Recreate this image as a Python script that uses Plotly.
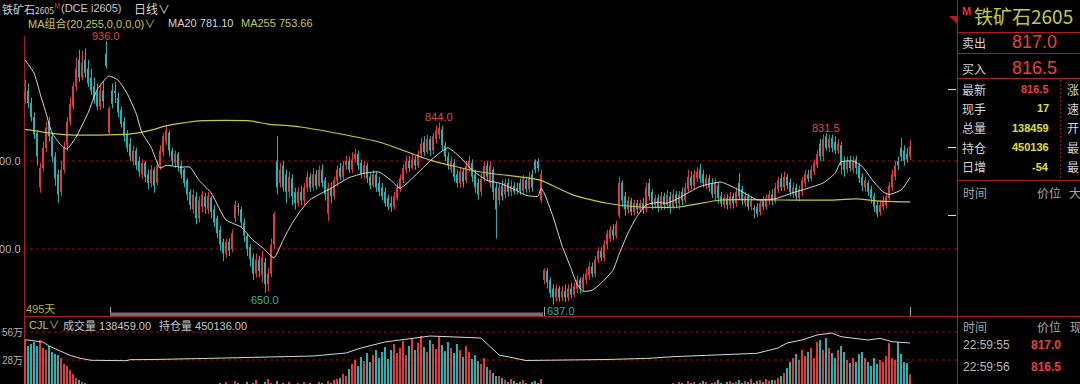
import plotly.graph_objects as go

W, H = 1080, 384

opens = [
    870,880,866,850,832,770,792,815,845,828,
    805,785,765,790,818,845,862,885,915,895,
    915,905,895,885,878,862,880,922,832,880,
    878,872,858,845,830,820,800,812,800,785,
    798,785,775,790,775,795,810,822,832,812,
    798,808,795,790,778,765,745,760,735,748,
    760,745,758,745,735,722,708,695,708,700,
    735,748,745,730,715,702,690,672,688,670,
    685,660,672,705,800,775,795,785,765,780,
    765,752,765,755,770,782,770,785,772,790,
    778,740,770,760,778,792,782,795,800,790,
    802,808,798,785,795,782,772,785,775,770,
    765,758,752,748,758,768,778,790,800,792,
    802,795,808,822,810,825,812,825,830,836,
    818,805,790,798,785,775,788,778,792,798,
    785,775,765,780,795,775,790,770,755,772,
    762,775,765,772,768,775,766,778,768,785,
    800,800,755,665,675,665,655,645,655,645,
    652,645,655,648,655,665,655,665,670,680,
    672,688,698,690,705,712,722,715,738,775,
    760,745,755,742,752,745,752,745,775,765,
    750,758,748,760,750,760,748,762,752,765,
    755,768,782,772,780,790,785,772,780,775,
    762,772,760,750,758,750,760,752,775,768,
    752,760,748,745,748,742,755,748,755,762,
    755,768,780,770,782,776,762,770,758,765,
    775,785,780,788,795,820,805,828,815,826,
    822,812,818,800,790,800,790,802,795,782,
    770,775,768,760,750,742,748,750,758,770,
    782,800,815,812,808,805,
]
highs = [
    892,888,872,855,835,798,822,845,850,832,
    810,790,800,822,850,872,890,918,926,925,
    928,915,905,895,888,888,890,936,862,888,
    890,878,862,850,835,826,818,815,805,802,
    800,790,795,793,800,818,832,840,835,815,
    812,810,800,792,780,768,768,765,760,766,
    764,765,760,750,738,726,712,712,712,722,
    755,752,748,735,718,705,695,695,692,698,
    690,678,712,742,828,798,800,790,788,785,
    770,770,772,775,788,786,792,790,795,796,
    782,775,776,782,795,798,800,806,805,810,
    814,812,802,800,798,786,790,788,782,775,
    770,762,760,765,775,785,796,806,805,808,
    806,812,826,828,830,828,832,840,844,840,
    822,810,805,802,790,792,792,800,806,802,
    790,780,786,800,800,800,793,775,775,778,
    780,780,778,776,775,780,784,782,788,790,
    802,803,790,678,678,668,660,660,658,658,
    660,660,662,662,670,668,672,678,685,685,
    692,702,702,710,722,726,728,732,782,778,
    765,760,758,756,756,756,758,775,780,768,
    762,762,765,764,767,765,768,766,766,770,
    775,790,788,790,793,797,790,785,784,780,
    780,776,765,762,762,765,764,770,786,772,
    765,763,760,750,752,756,760,762,766,768,
    775,782,786,788,785,780,775,774,772,782,
    790,790,795,802,812,825,830,831.5,830,830,
    828,825,822,805,805,806,805,806,798,786,
    782,778,772,764,754,755,760,764,776,790,
    800,805,826,818,815,824,
]
lows = [
    865,860,845,825,795,764,788,810,822,798,
    772,752,760,786,812,840,858,880,890,892,
    895,884,875,865,858,858,860,905,830,860,
    866,850,838,822,810,800,795,790,782,780,
    776,768,770,764,772,790,805,818,805,795,
    792,788,780,770,755,745,740,728,730,742,
    740,740,735,725,712,698,686,690,692,696,
    730,738,725,708,692,680,665,668,668,662,
    650,652,668,700,762,770,765,752,758,750,
    745,748,750,750,765,765,766,768,770,770,
    755,732,752,756,772,778,778,790,786,786,
    798,790,780,780,775,768,770,765,760,755,
    748,744,742,745,755,765,775,786,788,790,
    790,792,805,806,808,806,808,820,825,812,
    800,790,786,776,770,770,770,775,788,776,
    764,756,760,776,778,770,756,712,750,755,
    758,760,760,762,762,762,762,764,764,765,
    786,788,752,660,655,645,637,640,640,641,
    640,641,644,645,650,650,652,660,665,668,
    668,684,686,686,700,708,710,712,735,748,
    738,740,738,738,740,742,740,742,755,745,
    746,742,744,745,746,740,745,746,745,750,
    752,765,768,768,776,775,770,768,765,758,
    755,752,748,746,745,746,746,748,756,750,
    748,744,744,735,736,738,744,745,750,750,
    752,764,766,766,768,760,758,755,754,760,
    770,776,777,784,792,800,800,812,810,810,
    808,808,785,782,786,788,786,785,775,766,
    765,760,752,742,736,738,744,746,755,766,
    778,790,800,795,798,801,
]
closes = [
    878,866,850,830,805,792,815,838,828,805,
    780,762,790,815,845,865,885,905,895,912,
    900,888,880,870,862,880,868,908,860,865,
    878,855,842,828,815,805,812,795,788,798,
    782,775,790,772,795,812,828,835,812,800,
    808,795,785,775,762,750,762,735,755,762,
    748,760,742,730,718,705,695,708,698,718,
    750,748,730,715,700,688,672,688,675,690,
    660,672,705,740,770,790,770,765,782,760,
    752,765,755,770,782,770,785,772,790,775,
    762,770,760,778,790,782,795,800,790,802,
    808,795,785,795,780,772,785,770,765,760,
    752,748,748,760,770,780,792,800,792,802,
    795,808,820,810,825,812,828,835,838,818,
    805,795,800,782,775,788,776,795,800,782,
    770,762,780,795,782,795,765,745,770,760,
    775,765,772,765,768,766,780,768,782,770,
    790,792,785,676,662,650,645,655,645,652,
    645,655,648,658,665,655,668,672,680,672,
    688,698,690,705,718,722,715,728,775,755,
    745,755,742,752,745,752,745,770,760,750,
    758,748,760,750,762,748,762,752,762,755,
    770,782,772,785,788,780,775,780,770,762,
    775,758,752,758,750,760,752,765,760,755,
    760,748,755,745,740,752,748,758,762,755,
    770,778,770,782,772,765,770,760,768,778,
    785,780,790,798,808,805,825,815,825,815,
    812,820,795,790,800,792,800,792,780,772,
    778,765,758,748,740,750,755,760,772,785,
    795,795,805,800,802,816.5,
]
# volume in units of 10k (万)
volumes = [
    48,42,44,46,42,48,40,38,42,36,
    34,33,30,24,22,18,14,10,8,6,
    5,4,3,3,2,2,3,4,3,2,
    2,2,3,2,2,3,2,2,2,3,
    2,2,3,2,2,2,3,2,2,2,
    3,2,2,2,3,2,2,3,2,2,
    2,3,2,2,3,5,3,6,4,3,
    7,5,3,4,6,3,5,8,4,3,
    6,9,5,4,7,3,5,4,6,3,
    4,5,3,6,4,5,3,4,6,5,
    4,7,5,8,9,10,14,12,19,24,
    28,22,31,27,35,26,33,38,30,36,
    41,29,38,44,35,40,47,33,42,50,
    38,45,52,41,36,48,44,39,51,43,
    37,46,40,35,44,38,31,42,36,29,
    33,27,24,30,21,18,15,12,12,10,
    8,6,9,7,5,6,8,5,4,6,
    7,5,9,3,2,2,3,2,2,3,
    2,2,2,3,2,2,3,2,2,3,
    2,2,3,2,3,4,3,2,3,2,
    3,3,2,3,2,3,3,2,3,3,
    2,3,4,3,2,3,5,4,6,5,
    4,7,5,6,4,5,7,6,4,5,
    6,8,5,4,6,7,5,6,8,5,
    7,6,9,5,7,8,6,9,7,8,
    8,10,12,15,20,26,30,34,28,38,
    32,36,40,30,46,48,38,50,40,35,
    30,38,42,36,28,25,30,26,34,36,
    30,26,22,30,24,28,26,32,45,30,
    28,46,34,26,25,13.8,
]
# open interest (万), read at selected bars
oi_idx = [0, 6, 8, 12, 15, 18, 22, 34, 35, 43, 58, 62, 96, 107, 112, 120, 135, 145, 152,
          158, 167, 194, 208, 216, 225, 244, 251, 254, 259, 264, 269, 272, 281, 285, 289, 295]
oi_val = [48.3, 46, 42, 36.7, 32.7, 30, 27.7, 27.3, 28.3, 28.5, 29, 29.7, 32, 35, 40, 46, 52, 51, 50,
          33, 27.5, 28.5, 29.7, 31.3, 32.3, 34.7, 40, 45, 48, 53, 55, 51.3, 48, 49.7, 46.3, 45.0]

ma20_idx = [0,3,5,7,9,12,14,17,21,24,27,28,31,34,37,39,42,45,47,52,55,58,62,67,72,76,79,83,86,89,
            92,95,102,108,113,118,122,125,132,136,141,146,149,154,158,163,167,171,172,173,176,179,
            182,184,186,189,192,196,198,201,204,207,211,214,218,225,232,238,244,250,256,259,266,
            270,272,276,279,283,286,288,292,295]
ma20_val = [915,900,877,854.5,832,818,813.6,827,854.5,880.7,894,896.6,892,877,854.5,832,816,792,795,793,
            793,778,764,733,725,710,702,690,710,729,744,756,769,781,786,787.5,778,769,790,803,
            815,801,790,778,775,768,761,760,769,764,737,704,678,660,652,653,661,676,694,718,
            737,750,753,752,758,771,776,767,756,757,764,767,775,786,799,800,794,776,765,762,
            767,781.1]

ma255_idx = [0, 13, 28, 36, 42, 47, 58, 75, 81, 92, 118, 135, 152, 168, 172, 183, 194, 205, 218,
             232, 252, 268, 277, 285, 295]
ma255_val = [836, 830, 829.6, 831, 835, 840, 845.5, 845.5, 842, 838.6, 821.6, 801, 787.5, 780.7, 778,
             761, 752, 747.7, 747.7, 755.7, 755.7, 755.5, 757, 754.5, 753.66]

# extreme labels: (bar index, price, text, colour, side)
peak_labels = [
    (27, 936.0, "936.0", "#e04848", "top"),
    (80, 650.0, "650.0", "#2cb4b4", "bottom"),
    (138, 844.0, "844.0", "#e04848", "top"),
    (267, 831.5, "831.5", "#e04848", "top"),
]
low_label = (173.5, 637.0, "637.0", "#2cb4b4")

RED = "#e23a3a"
TEAL = "#1fb5b5"
GREY = "#8c8c8c"
BORDER = "#b01c1c"
DASH = "#8e1a1a"
OLIVE = "#c8c850"
LIGHT = "#d4d4d4"
FONT = "Liberation Sans, Noto Sans CJK SC, sans-serif"
CJK = "Noto Sans CJK SC, Liberation Sans, sans-serif"

n = len(closes)
idx = list(range(n))


def ccol(o, c):
    if c > o:
        return RED
    if c < o:
        return TEAL
    return GREY


colors = [ccol(o, c) for o, c in zip(opens, closes)]
body_base = [min(o, c) for o, c in zip(opens, closes)]
body_h = [max(abs(c - o), 0.8) for o, c in zip(opens, closes)]
wick_h = [h - l for h, l in zip(highs, lows)]

fig = go.Figure()
fig.add_trace(go.Bar(x=idx, y=wick_h, base=lows, width=0.28, offset=0.02,
                     marker=dict(color=colors, line=dict(width=0)), hoverinfo="skip"))
fig.add_trace(go.Bar(x=idx, y=body_h, base=body_base, width=0.65, offset=-0.32,
                     marker=dict(color=colors, line=dict(width=0)), hoverinfo="skip"))
fig.add_trace(go.Scatter(x=ma255_idx, y=ma255_val, mode="lines",
                         line=dict(color="#c8c83a", width=1.2, shape="spline", smoothing=0.6)))
fig.add_trace(go.Scatter(x=ma20_idx, y=ma20_val, mode="lines",
                         line=dict(color="#d8d8d8", width=1, shape="spline", smoothing=0.5)))
fig.add_trace(go.Bar(x=idx, y=volumes, width=0.65, offset=-0.32, xaxis="x2", yaxis="y2",
                     marker=dict(color=colors, line=dict(width=0)), hoverinfo="skip"))
fig.add_trace(go.Scatter(x=oi_idx, y=oi_val, mode="lines", xaxis="x2", yaxis="y2",
                         line=dict(color="#d8d8d8", width=1)))

# layout geometry (pixels)
PX_L, PX_R = 24, 957
MAIN_TOP, MAIN_BOT = 20, 316
xr = [-1 / 3, -1 / 3 + (PX_R - PX_L) / 3]
ppu = 0.88
p_top = 800 + (161 - MAIN_TOP) / ppu
p_bot = 800 - (MAIN_BOT - 161) / ppu

fig.update_layout(
    width=W, height=H, margin=dict(l=0, r=0, t=0, b=0),
    paper_bgcolor="black", plot_bgcolor="black", barmode="overlay", showlegend=False,
    xaxis=dict(domain=[PX_L / W, PX_R / W], range=xr, visible=False, fixedrange=True),
    yaxis=dict(domain=[(H - MAIN_BOT) / H, (H - MAIN_TOP) / H], range=[p_bot, p_top], visible=False),
    xaxis2=dict(domain=[PX_L / W, PX_R / W], range=xr, visible=False, anchor="y2"),
    yaxis2=dict(domain=[0, (H - MAIN_BOT) / H], range=[4, 72], visible=False, anchor="x2"),
)


def px(x):
    return x / W


def py(y):
    return 1 - y / H


def hline(y, x0, x1, color, dash=None, width=1):
    fig.add_shape(type="line", xref="paper", yref="paper", x0=px(x0), x1=px(x1), y0=py(y), y1=py(y),
                  line=dict(color=color, width=width, dash=dash), layer="below")


def vline(x, y0, y1, color, dash=None, width=1):
    fig.add_shape(type="line", xref="paper", yref="paper", x0=px(x), x1=px(x), y0=py(y0), y1=py(y1),
                  line=dict(color=color, width=width, dash=dash), layer="below")


def text(t, x, y, size=11, color=LIGHT, xa="left", ya="middle", family=FONT):
    fig.add_annotation(text=t, x=px(x), y=py(y), xref="paper", yref="paper", xanchor=xa, yanchor=ya,
                       showarrow=False, font=dict(size=size, color=color, family=family), borderpad=0)


# grid / borders
for gy in (161, 249, 332, 360):
    hline(gy, PX_L, PX_R, DASH, dash="3px,3px")
vline(24.5, 36, 384, BORDER)
vline(957.5, 0, 384, BORDER)
hline(316.5, 24, 1080, BORDER)
for ry in (32.5, 53.5, 78.5, 180.5):
    hline(ry, 957, 1080, BORDER)
vline(1060.5, 80, 178, DASH, dash="2px,2px")
for ty in (89.5, 147.5, 215.5):
    hline(ty, 948, 956, "#e0e0e0")
# scroll bar
fig.add_shape(type="rect", xref="paper", yref="paper", x0=px(110), x1=px(543), y0=py(316), y1=py(312.5),
              fillcolor="#707070", line=dict(width=0))
for tx in (110.5, 544.5, 910.5):
    vline(tx, 307, 316, "#a0a0a0")
fig.add_shape(type="path", xref="paper", yref="paper",
              path=f"M {px(949)},{py(16)} L {px(957)},{py(16)} L {px(957)},{py(24)} Z",
              fillcolor=BORDER, line=dict(width=0))

# header
text("铁矿石<span style='font-size:8.5px'>2605</span><sup><span style='color:#e03030'>M</span></sup>",
     1, 8, 11, LIGHT, family=CJK)
text("(DCE i2605)", 60, 8, 11, "#c8c8c8")
text("日线∨", 133, 8, 12, LIGHT, family=CJK)
text("MA组合(20,255,0,0,0,0)∨", 27, 23, 11, OLIVE)
text("MA20 781.10", 167, 23, 11, LIGHT)
text("MA255 753.66", 240, 23, 11, OLIVE)

# axis labels
text("800.0", 22, 161, 11, "#b4b4b4", xa="right")
text("700.0", 22, 249, 11, "#b4b4b4", xa="right")
text("56万", 1, 332, 10, "#b4b4b4")
text("28万", 1, 360, 10, "#b4b4b4")
text("495天", 25, 309, 11, "#b8b040")

# volume header
text("CJL∨", 28, 325, 11, OLIVE)
text("成交量 138459.00", 62, 325, 11, "#c8c8c8")
text("持仓量 450136.00", 158, 325, 11, "#c8c8c8")

# extreme labels
for i, p, t, c, side in peak_labels:
    fig.add_annotation(text=t, x=i, y=p, xref="x", yref="y", showarrow=False,
                       yanchor="bottom" if side == "top" else "top", xanchor="center",
                       yshift=-2 if side == "top" else 0, borderpad=0,
                       font=dict(size=11, color=c, family=FONT))
fig.add_annotation(text=low_label[2], x=low_label[0], y=low_label[1], xref="x", yref="y", showarrow=False,
                   xanchor="left", yanchor="top", borderpad=0, font=dict(size=11, color=low_label[3], family=FONT))

# right panel
text("<b>M</b>", 961, 11, 11, "#e03030")
text("铁矿石2605", 973, 15, 19, "#c4cc3c", family=CJK)
text("卖出", 961, 42, 12, LIGHT, family=CJK)
text("817.0", 1058, 42, 18, "#e84040", xa="right")
text("买入", 961, 68, 12, LIGHT, family=CJK)
text("816.5", 1058, 68, 18, "#e84040", xa="right")
left_lbls = ["最新", "现手", "总量", "持仓", "日增"]
right_lbls = ["涨", "速", "开", "最", "最"]
vals = ["816.5", "17", "138459", "450136", "-54"]
vcols = ["#e84040", "#e0e030", "#e0e030", "#e0e030", "#e0e030"]
rows_y = [89, 108, 128, 147, 167]
for lab, rl, v, vc, ry in zip(left_lbls, right_lbls, vals, vcols, rows_y):
    text(lab, 961, ry, 12, LIGHT, family=CJK)
    text(f"<b>{v}</b>", 1050, ry, 11, vc, xa="right")
    text(rl, 1066, ry, 12, LIGHT, family=CJK)
text("时间", 962, 192, 12, "#a8a8a8", family=CJK)
text("价位", 1036, 192, 12, "#a8a8a8", family=CJK)
text("大", 1068, 192, 12, "#a8a8a8", family=CJK)
text("时间", 962, 326, 12, "#a8a8a8", family=CJK)
text("价位", 1036, 326, 12, "#a8a8a8", family=CJK)
text("现", 1069, 326, 12, "#a8a8a8", family=CJK)
text("22:59:55", 962, 345, 12, "#b8b8b8")
text("<b>817.0</b>", 1062, 345, 12, "#e84040", xa="right")
text("22:59:56", 962, 367, 12, "#b8b8b8")
text("<b>816.5</b>", 1062, 367, 12, "#e84040", xa="right")

fig.write_html(
    "out.html",
    config={"displayModeBar": False, "staticPlot": False},
    post_script="document.body.style.margin='0';document.body.style.padding='0';"
                "document.body.style.overflow='hidden';document.body.style.background='black';",
)
